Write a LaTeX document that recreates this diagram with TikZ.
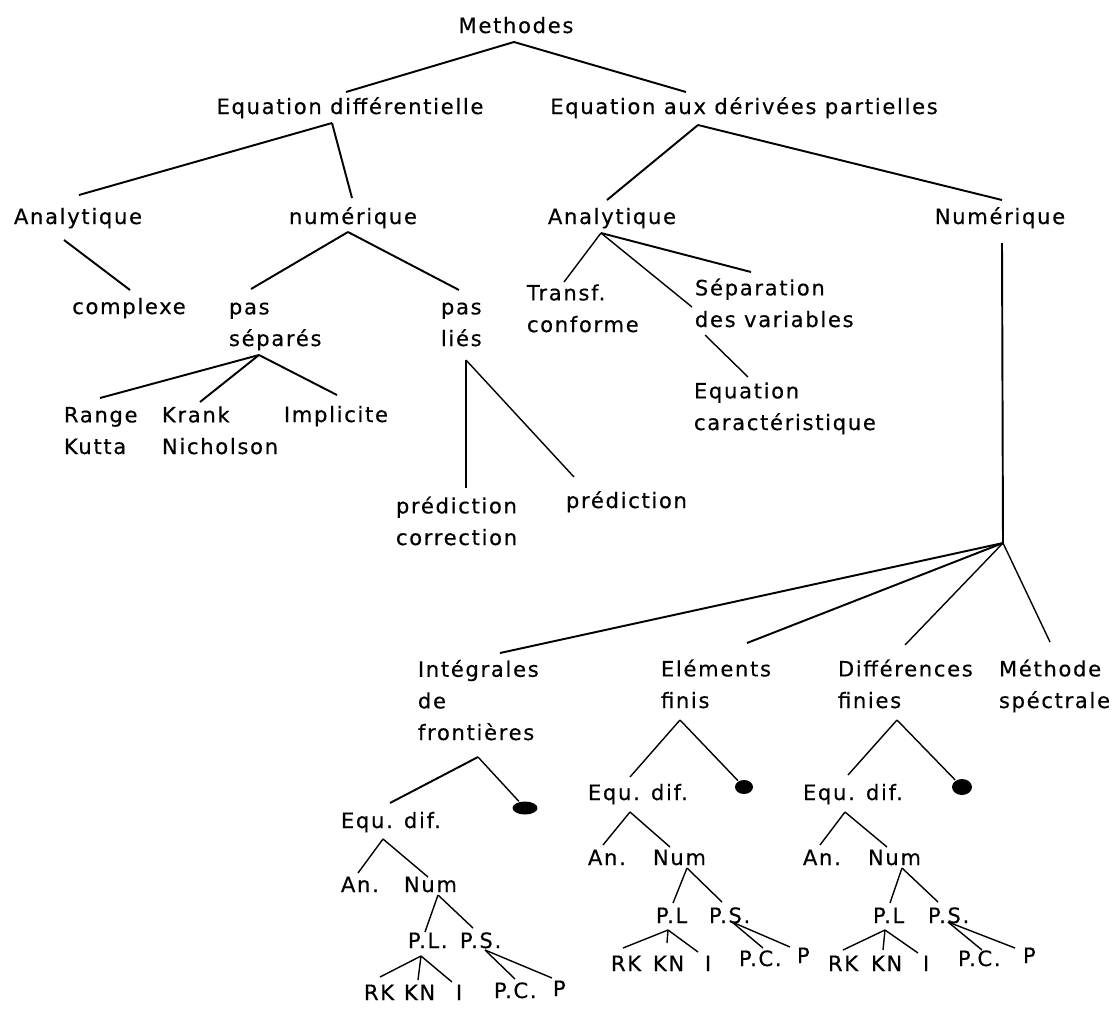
\documentclass[tikz,border=0pt]{standalone}
\usepackage{fontspec}
\setmainfont{DejaVu Sans}[LetterSpace=8,FakeBold=0.4]
\usetikzlibrary{shapes.geometric}

\begin{document}
\begin{tikzpicture}[x=0.02cm,y=-0.02cm,line width=1.1pt,
  every node/.style={font=\fontsize{12}{18}\selectfont,inner sep=0pt},
  mid/.style={anchor=base},
  lft/.style={anchor=base west,align=left},
  twig/.style={line width=0.8pt},
  blob/.style={ellipse,fill=black,inner sep=0pt}]
\useasboundingbox (0,0) rectangle (1120,1012);
% upper levels (multi-line nodes sit on their last line)
\node[mid] (meth) at (516,33) {Methodes};
\node[mid] (eqdiff) at (350,114) {Equation différentielle};
\node[mid] (eqpart) at (744,114) {Equation aux dérivées partielles};
\node[mid] (anaA) at (78,224) {Analytique};
\node[mid] (numA) at (353,224) {numérique};
\node[mid] (anaB) at (612,224) {Analytique};
\node[mid] (numB) at (1000,224) {Numérique};
\node[mid] (cplx) at (129,314) {complexe};
\node[lft] (pasS) at (228,346) {pas\\séparés};
\node[lft] (pasL) at (440,346) {pas\\liés};
\node[lft] (transf) at (526,332) {Transf.\\conforme};
\node[lft] (separ) at (694,327) {Séparation\\des variables};
\node[lft] (caract) at (693,430) {Equation\\caractéristique};
\node[lft] (range) at (63,454) {Range\\Kutta};
\node[lft] (krank) at (161,454) {Krank\\Nicholson};
\node[lft] (impl) at (283,422) {Implicite};
\node[lft] (predcor) at (395,545) {prédiction\\correction};
\node[lft] (pred) at (565,508) {prédiction};
\coordinate (jn) at (1003,543);
\node[lft] (integ) at (417,740) {Intégrales\\de\\frontières};
\node[lft] (elem) at (660,708) {Eléments\\finis};
\node[lft] (diff) at (837,708) {Différences\\finies};
\node[lft] (spec) at (998,708) {Méthode\\spéctrale};
\node[blob,minimum width=0.5cm,minimum height=0.26cm] (blobA) at (525,808) {};
\node[blob,minimum width=0.36cm,minimum height=0.28cm] (blobB) at (744,787) {};
\node[blob,minimum width=0.4cm,minimum height=0.32cm] (blobC) at (962,787) {};

\draw ([shift={(-2,9)}]meth.base) -- ([shift={(-4,-22)}]eqdiff.base);
\draw ([shift={(-2,9)}]meth.base) -- ([shift={(-58,-22)}]eqpart.base);
\draw ([shift={(-18,9)}]eqdiff.base) -- ([shift={(1,-29)}]anaA.base);
\draw ([shift={(-18,9)}]eqdiff.base) -- ([shift={(-1,-26)}]numA.base);
\draw ([shift={(-46,11)}]eqpart.base) -- ([shift={(-5,-24)}]anaB.base);
\draw ([shift={(-46,11)}]eqpart.base) -- ([shift={(2,-24)}]numB.base);
\draw ([shift={(-14,16)}]anaA.base) -- ([shift={(1,-24)}]cplx.base);
\draw ([shift={(-5,8)}]numA.base) -- ([shift={(23,-57)}]pasS.base west);
\draw ([shift={(-5,8)}]numA.base) -- ([shift={(19,-56)}]pasL.base west);
\draw ([shift={(31,9)}]pasS.base west) -- ([shift={(37,-56)}]range.base west);
\draw ([shift={(31,9)}]pasS.base west) -- ([shift={(39,-52)}]krank.base west);
\draw ([shift={(31,9)}]pasS.base west) -- ([shift={(54,-27)}]impl.base west);
\draw[twig] ([shift={(26,14)}]pasL.base west) -- ([shift={(71,-57)}]predcor.base west);
\draw[twig] ([shift={(26,14)}]pasL.base west) -- ([shift={(9,-31)}]pred.base west);
\draw[twig] ([shift={(-11,9)}]anaB.base) -- ([shift={(38,-50)}]transf.base west);
\draw ([shift={(-11,9)}]anaB.base) -- ([shift={(57,-55)}]separ.base west);
\draw[twig] ([shift={(-11,9)}]anaB.base) -- ([shift={(-2,-20)}]separ.base west);
\draw[twig] ([shift={(11,8)}]separ.base west) -- ([shift={(55,-53)}]caract.base west);
\draw ([shift={(2,19)}]numB.base) -- (jn);
\draw (jn) -- ([shift={(83,-87)}]integ.base west);
\draw (jn) -- ([shift={(87,-65)}]elem.base west);
\draw[twig] (jn) -- ([shift={(68,-63)}]diff.base west);
\draw[twig] (jn) -- ([shift={(52,-66)}]spec.base west);

% boundary integrals
\node[lft] (edL) at (340,828) {Equ. dif.};
\node[lft] (anL) at (340,892) {An.};
\node[lft] (nuL) at (403,892) {Num};
\node[lft] (plL) at (407,948) {P.L.};
\node[lft] (psL) at (459,948) {P.S.};
\node[lft] (rkL) at (363,1000) {RK};
\node[lft] (knL) at (403,1000) {KN};
\node[lft] (iL) at (455,1000) {I};
\node[lft] (pcL) at (493,998) {P.C.};
\node[lft] (pL) at (552,996) {P};
\draw ([shift={(61,17)}]integ.base west) -- ([shift={(50,-25)}]edL.base west);
\draw[twig] ([shift={(61,17)}]integ.base west) -- (blobA);
\draw[twig] ([shift={(43,11)}]edL.base west) -- ([shift={(18,-19)}]anL.base west);
\draw[twig] ([shift={(43,11)}]edL.base west) -- ([shift={(25,-15)}]nuL.base west);
\draw[twig] ([shift={(35,3)}]nuL.base west) -- ([shift={(18,-16)}]plL.base west);
\draw[twig] ([shift={(35,3)}]nuL.base west) -- ([shift={(14,-20)}]psL.base west);
\draw[twig] ([shift={(14,8)}]plL.base west) -- ([shift={(17,-23)}]rkL.base west);
\draw[twig] ([shift={(14,8)}]plL.base west) -- ([shift={(15,-20)}]knL.base west);
\draw[twig] ([shift={(14,8)}]plL.base west) -- ([shift={(-3,-18)}]iL.base west);
\draw[twig] ([shift={(26,2)}]psL.base west) -- ([shift={(22,-19)}]pcL.base west);
\draw[twig] ([shift={(26,2)}]psL.base west) -- ([shift={(0,-18)}]pL.base west);

% finite elements
\node[lft] (edM) at (587,800) {Equ. dif.};
\node[lft] (anM) at (587,865) {An.};
\node[lft] (nuM) at (652,865) {Num};
\node[lft] (plM) at (655,923) {P.L};
\node[lft] (psM) at (708,923) {P.S.};
\node[lft] (rkM) at (610,971) {RK};
\node[lft] (knM) at (652,971) {KN};
\node[lft] (iM) at (704,971) {I};
\node[lft] (pcM) at (738,966) {P.C.};
\node[lft] (pM) at (796,963) {P};
\draw[twig] ([shift={(20,12)}]elem.base west) -- ([shift={(43,-23)}]edM.base west);
\draw[twig] ([shift={(20,12)}]elem.base west) -- (blobB);
\draw[twig] ([shift={(43,12)}]edM.base west) -- ([shift={(16,-20)}]anM.base west);
\draw[twig] ([shift={(43,12)}]edM.base west) -- ([shift={(18,-18)}]nuM.base west);
\draw[twig] ([shift={(35,3)}]nuM.base west) -- ([shift={(18,-20)}]plM.base west);
\draw[twig] ([shift={(35,3)}]nuM.base west) -- ([shift={(14,-21)}]psM.base west);
\draw[twig] ([shift={(13,7)}]plM.base west) -- ([shift={(13,-23)}]rkM.base west);
\draw[twig] ([shift={(13,7)}]plM.base west) -- ([shift={(15,-28)}]knM.base west);
\draw[twig] ([shift={(13,7)}]plM.base west) -- ([shift={(-6,-19)}]iM.base west);
\draw[twig] ([shift={(24,-1)}]psM.base west) -- ([shift={(25,-18)}]pcM.base west);
\draw[twig] ([shift={(24,-1)}]psM.base west) -- ([shift={(-6,-16)}]pM.base west);

% finite differences
\node[lft] (edR) at (802,800) {Equ. dif.};
\node[lft] (anR) at (802,865) {An.};
\node[lft] (nuR) at (867,865) {Num};
\node[lft] (plR) at (872,923) {P.L};
\node[lft] (psR) at (927,923) {P.S.};
\node[lft] (rkR) at (827,971) {RK};
\node[lft] (knR) at (870,971) {KN};
\node[lft] (iR) at (922,971) {I};
\node[lft] (pcR) at (957,966) {P.C.};
\node[lft] (pR) at (1022,963) {P};
\draw[twig] ([shift={(60,12)}]diff.base west) -- ([shift={(46,-25)}]edR.base west);
\draw[twig] ([shift={(60,12)}]diff.base west) -- (blobC);
\draw[twig] ([shift={(43,12)}]edR.base west) -- ([shift={(18,-20)}]anR.base west);
\draw[twig] ([shift={(43,12)}]edR.base west) -- ([shift={(20,-18)}]nuR.base west);
\draw[twig] ([shift={(35,3)}]nuR.base west) -- ([shift={(18,-20)}]plR.base west);
\draw[twig] ([shift={(35,3)}]nuR.base west) -- ([shift={(11,-21)}]psR.base west);
\draw[twig] ([shift={(13,7)}]plR.base west) -- ([shift={(16,-21)}]rkR.base west);
\draw[twig] ([shift={(13,7)}]plR.base west) -- ([shift={(13,-21)}]knR.base west);
\draw[twig] ([shift={(13,7)}]plR.base west) -- ([shift={(-4,-18)}]iR.base west);
\draw[twig] ([shift={(21,-1)}]psR.base west) -- ([shift={(25,-16)}]pcR.base west);
\draw[twig] ([shift={(21,-1)}]psR.base west) -- ([shift={(-7,-15)}]pR.base west);
\end{tikzpicture}
\end{document}
